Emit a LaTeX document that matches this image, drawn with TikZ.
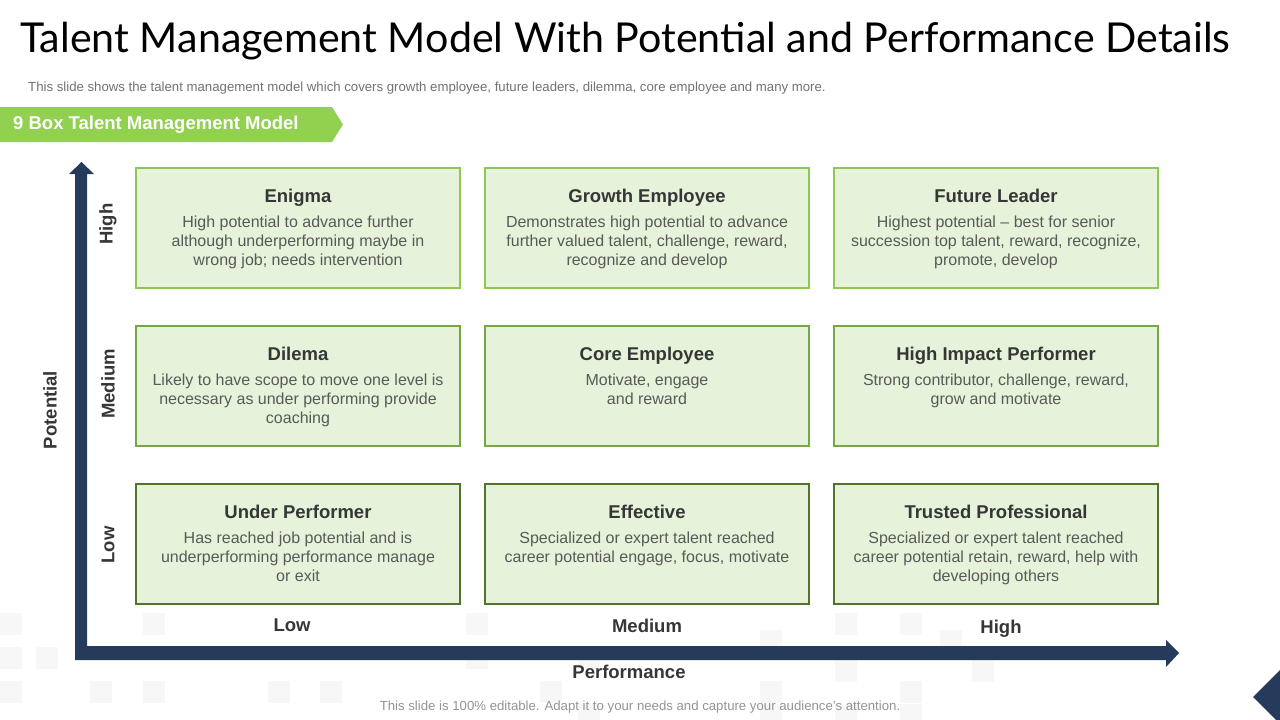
\documentclass[tikz,border=0pt]{standalone}
\usepackage{fontspec}
\setmainfont{Liberation Sans}
\newfontfamily\titlefont{Lato}
\definecolor{navy}{HTML}{263A5B}
\definecolor{banner}{HTML}{92D050}
\definecolor{boxfill}{HTML}{E6F3DA}
\definecolor{bordtop}{HTML}{8DC853}
\definecolor{bordmid}{HTML}{76A646}
\definecolor{bordbot}{HTML}{52742A}
\definecolor{headtxt}{HTML}{363636}
\definecolor{bodytxt}{HTML}{595959}
\definecolor{faint}{HTML}{F7F7F7}
\begin{document}
\begin{tikzpicture}[x=1pt,y=-1pt,
  cell/.style={draw, line width=2pt, fill=boxfill, minimum width=324pt, minimum height=120pt, inner sep=0pt},
  cellhead/.style={anchor=base, font=\fontsize{18.5}{22}\selectfont\bfseries, text=headtxt, inner sep=0pt},
  cellbody/.style={anchor=north, font=\fontsize{16}{19}\selectfont, text=bodytxt, align=center, inner sep=0pt},
  axlabel/.style={font=\fontsize{18.5}{22}\selectfont\bfseries, text=headtxt, inner sep=0pt},
  note/.style={font=\fontsize{13.2}{15}\selectfont, inner sep=0pt, anchor=base west}]
\useasboundingbox (0,0) rectangle (1280,720);
\fill[white] (0,0) rectangle (1280,720);
% faint background squares
\foreach \x/\y in {0/613,0/647,36/647,0/681,143/613,90/681,143/681,268/681,320/681,466/613,466/647,578/647,540/681,578/704,760/630,760/681,835/613,835/660,900/613,900/681,940/630,972/660,760/704,835/704,900/704}
  \fill[faint] (\x,\y) rectangle ++(22,22);
% title
\node[anchor=base west, inner sep=0pt, font=\titlefont\fontsize{41.2}{48}\selectfont] (title) at (20,52) {Talent Management Model With Potential and Performance Details};
\node[note, text=bodytxt!85] (sub) at (28,91) {This slide shows the talent management model which covers growth employee, future leaders, dilemma, core employee and many more.};
% banner
\fill[banner] (0,107) -- (332,107) -- (343,124.5) -- (332,142) -- (0,142) -- cycle;
\node[anchor=west, inner sep=0pt, text=white, font=\fontsize{18.5}{22}\selectfont\bfseries] (ban) at (13,124.5) {9 Box Talent Management Model};
% axes
\fill[navy] (75,660) -- (75,174) -- (69,174) -- (81.5,162) -- (94,174) -- (87,174) -- (87,646) -- (1166,646) -- (1166,640) -- (1179,653) -- (1166,667) -- (1166,660) -- cycle;
% cells
\foreach \c/\x in {0/135,1/484,2/833}{
  \foreach \r/\y/\col in {0/167/bordtop,1/325/bordmid,2/483/bordbot}{
    \node[cell, draw=\col, anchor=north west] (c\r\c) at (\x,\y) {};
  }
}
\node[cellhead] at ([yshift=-35pt]c00.north) {Enigma};
\node[cellbody] at ([yshift=-48.5pt]c00.north) {High potential to advance further\\although underperforming maybe in\\wrong job; needs intervention};
\node[cellhead] at ([yshift=-35pt]c01.north) {Growth Employee};
\node[cellbody] at ([yshift=-48.5pt]c01.north) {Demonstrates high potential to advance\\further valued talent, challenge, reward,\\recognize and develop};
\node[cellhead] at ([yshift=-35pt]c02.north) {Future Leader};
\node[cellbody] at ([yshift=-48.5pt]c02.north) {Highest potential -- best for senior\\succession top talent, reward, recognize,\\promote, develop};
\node[cellhead] at ([yshift=-35pt]c10.north) {Dilema};
\node[cellbody] at ([yshift=-48.5pt]c10.north) {Likely to have scope to move one level is\\necessary as under performing provide\\coaching};
\node[cellhead] at ([yshift=-35pt]c11.north) {Core Employee};
\node[cellbody] at ([yshift=-48.5pt]c11.north) {Motivate, engage\\and reward};
\node[cellhead] at ([yshift=-35pt]c12.north) {High Impact Performer};
\node[cellbody] at ([yshift=-48.5pt]c12.north) {Strong contributor, challenge, reward,\\grow and motivate};
\node[cellhead] at ([yshift=-35pt]c20.north) {Under Performer};
\node[cellbody] at ([yshift=-48.5pt]c20.north) {Has reached job potential and is\\underperforming performance manage\\or exit};
\node[cellhead] at ([yshift=-35pt]c21.north) {Effective};
\node[cellbody] at ([yshift=-48.5pt]c21.north) {Specialized or expert talent reached\\career potential engage, focus, motivate};
\node[cellhead] at ([yshift=-35pt]c22.north) {Trusted Professional};
\node[cellbody] at ([yshift=-48.5pt]c22.north) {Specialized or expert talent reached\\career potential retain, reward, help with\\developing others};
% axis labels
\node[axlabel, rotate=90] (yh) at (108,224) {High};
\node[axlabel, rotate=90] (ym) at (108,384) {Medium};
\node[axlabel, rotate=90] (yl) at (108,545) {Low};
\node[axlabel, rotate=90] (ypot) at (50,410) {Potential};
\node[axlabel, anchor=base] (xl) at (292,631) {Low};
\node[axlabel, anchor=base] (xm) at (647,632) {Medium};
\node[axlabel, anchor=base] (xh) at (1001,633) {High};
\node[axlabel, anchor=base] (xperf) at (629,678) {Performance};
% footer
\node[note, anchor=base, text=black!42] (foot) at (640,710) {This slide is 100\% editable. Adapt it to your needs and capture your audience's attention.};
% corner mark
\fill[navy] (1253,697) -- (1280,670) -- (1280,724) -- cycle;
\end{tikzpicture}
\end{document}
